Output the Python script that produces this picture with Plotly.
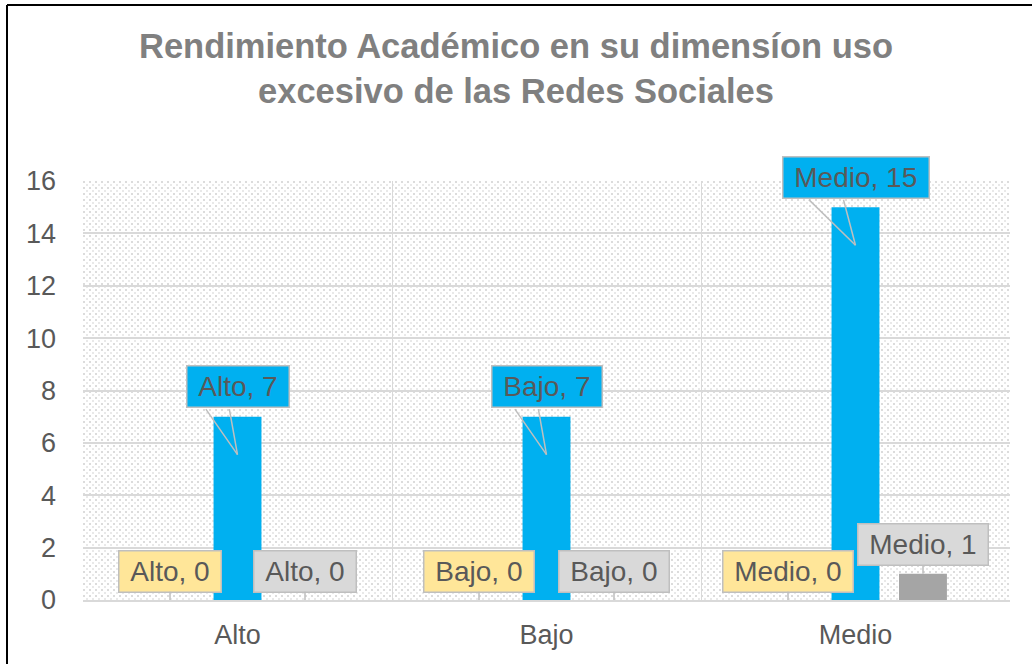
import base64
import plotly.graph_objects as go

categorias = ["Alto", "Bajo", "Medio"]
valores_amarillo = [0, 0, 0]
valores_azul = [7, 7, 15]
valores_gris = [0, 0, 1]
ticks_y = [0, 2, 4, 6, 8, 10, 12, 14, 16]

W, H = 1032, 664
ml, mr, mt, mb = 83, 22, 181, 64
pw, ph = W - ml - mr, H - mt - mb

fuente = "Liberation Sans, Arial, sans-serif"
gris_txt = "#595959"
borde = "#BFBFBF"

# light diagonal dotted texture for the plot area (like the Excel pattern fill)
tile = ('<svg xmlns="http://www.w3.org/2000/svg" width="%d" height="%d">'
        '<defs><pattern id="p" width="6" height="6" patternUnits="userSpaceOnUse">'
        '<rect width="6" height="6" fill="#ffffff"/>'
        '<rect x="0" y="0" width="2" height="2" fill="#dcdcdc"/>'
        '<rect x="3" y="3" width="2" height="2" fill="#e9e9e9"/>'
        '</pattern></defs><rect width="100%%" height="100%%" fill="url(#p)"/></svg>') % (pw, ph)
tile_uri = "data:image/svg+xml;base64," + base64.b64encode(tile.encode()).decode()

series = [
    (valores_amarillo, "#FFC000", "#FFE699", -67.5),
    (valores_azul, "#00B0F0", "#00B0F0", 0),
    (valores_gris, "#A5A5A5", "#D9D9D9", 67.5),
]

fig = go.Figure()
for vals, color, _, _ in series:
    fig.add_trace(go.Bar(x=categorias, y=vals, marker_color=color, marker_line_width=0))

anotaciones = []
for vals, color, fondo, dx in series:
    azul = color == "#00B0F0"
    for cat, v in zip(categorias, vals):
        texto = "%s, %d" % (cat, v)
        anotaciones.append(dict(
            x=cat, y=v, xref="x", yref="y",
            text="\u00a0" + texto + "\u00a0",
            font=dict(family=fuente, size=28, color=gris_txt),
            bgcolor=fondo, bordercolor=borde, borderwidth=1.5, borderpad=3,
            height=34,
            showarrow=True, arrowhead=0, arrowwidth=1.5,
            arrowcolor="rgba(0,0,0,0)" if azul else borde,
            ax=0, ay=-68 if azul else -29,
            xshift=dx, yshift=-38 if azul else 0,
        ))
        if azul:
            # callout wedge: two edges from the box bottom down to the tip
            media = 11.75 * len(texto) - 32.75
            for f in (0.66, 0.17):
                anotaciones.append(dict(
                    x=cat, y=v, xref="x", yref="y", text="",
                    showarrow=True, arrowhead=0, arrowwidth=1.5, arrowcolor=borde,
                    ax=-f * media, ay=-47, yshift=-38,
                ))

# outer chart border (only the left and top edges are inside the picture)
bx = (7 - ml) / pw
by = 1 + (mt - 5) / ph
formas = [
    dict(type="line", xref="paper", yref="paper", x0=bx, x1=bx, y0=-1, y1=by,
         line=dict(color="#000000", width=2)),
    dict(type="line", xref="paper", yref="paper", x0=bx, x1=1.2, y0=by, y1=by,
         line=dict(color="#000000", width=2)),
]

fig.update_layout(
    width=W, height=H,
    margin=dict(l=ml, r=mr, t=mt, b=mb),
    paper_bgcolor="#ffffff", plot_bgcolor="rgba(0,0,0,0)",
    barmode="group", bargap=0.345, bargroupgap=0.29,
    showlegend=False,
    title=dict(
        text="<b>Rendimiento Académico en su dimensíon uso<br>excesivo de las Redes Sociales</b>",
        x=0.5, xanchor="center", y=0.912, yanchor="middle",
        font=dict(family=fuente, size=34.5, color="#808080"),
    ),
    xaxis=dict(
        tickson="boundaries", showgrid=True, gridcolor="#D9D9D9", gridwidth=1,
        showline=True, linecolor="#D9D9D9", linewidth=1.5, ticks="",
        ticklabelstandoff=10, automargin=False,
        tickfont=dict(family=fuente, size=27, color=gris_txt),
    ),
    yaxis=dict(
        range=[0, 16], tickvals=ticks_y, showgrid=True, gridcolor="#D9D9D9",
        gridwidth=1.5, zeroline=False, ticks="", ticklabelstandoff=26,
        automargin=False,
        tickfont=dict(family=fuente, size=27, color=gris_txt),
    ),
    images=[dict(source=tile_uri, xref="paper", yref="paper", x=0, y=1,
                 sizex=1, sizey=1, sizing="stretch", xanchor="left",
                 yanchor="top", layer="below")],
    annotations=anotaciones,
    shapes=formas,
)

fig.write_html("out.html", config={"displayModeBar": False},
               post_script="document.body.style.margin='0px';")
